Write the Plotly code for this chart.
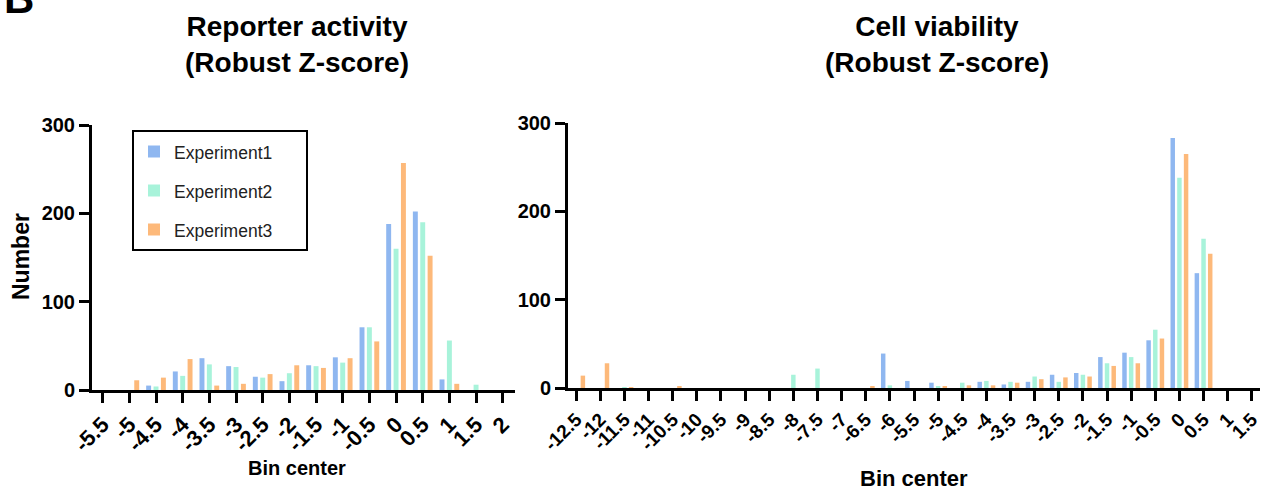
import plotly.graph_objects as go

# ---------------- data ----------------
left_bins = [-5.5, -5, -4.5, -4, -3.5, -3, -2.5, -2, -1.5, -1, -0.5, 0, 0.5, 1, 1.5, 2]
left_labels = ["-5.5", "-5", "-4.5", "-4", "-3.5", "-3", "-2.5", "-2", "-1.5", "-1",
               "-0.5", "0", "0.5", "1", "1.5", "2"]
left_exp1 = [0, 0, 5, 21, 36, 27, 15, 10, 28, 37, 71, 188, 202, 12, 0, 0]
left_exp2 = [0, 0, 4, 16, 29, 26, 14, 19, 27, 31, 71, 160, 190, 56, 6, 0]
left_exp3 = [0, 11, 14, 35, 5, 7, 18, 28, 25, 36, 55, 257, 152, 7, 0, 0]

right_bins = [-12.5, -12, -11.5, -11, -10.5, -10, -9.5, -9, -8.5, -8, -7.5, -7, -6.5, -6,
              -5.5, -5, -4.5, -4, -3.5, -3, -2.5, -2, -1.5, -1, -0.5, 0, 0.5, 1, 1.5]
right_labels = ["-12.5", "-12", "-11.5", "-11", "-10.5", "-10", "-9.5", "-9", "-8.5", "-8",
                "-7.5", "-7", "-6.5", "-6", "-5.5", "-5", "-4.5", "-4", "-3.5", "-3",
                "-2.5", "-2", "-1.5", "-1", "-0.5", "0", "0.5", "1", "1.5"]
right_exp1 = [0, 0, 0, 0, 0, 0, 0, 0, 0, 0, 0, 0, 0, 39, 8, 6, 0, 7, 4, 7, 15, 17, 35, 40, 54, 283, 130, 0, 0]
right_exp2 = [0, 0, 1, 0, 0, 0, 0, 0, 0, 15, 22, 0, 0, 3, 0, 2, 6, 8, 7, 13, 7, 15, 28, 35, 66, 238, 169, 0, 0]
right_exp3 = [14, 28, 1, 0, 2, 0, 0, 0, 0, 0, 0, 0, 2, 0, 0, 1.5, 3, 3, 6, 10, 12, 13, 25, 28, 56, 265, 152, 0, 0]

series_names = ["Experiment1", "Experiment2", "Experiment3"]
colors = ["#8FB7F0", "#A8F3DA", "#FDB97A"]
y_ticks = [0, 100, 200, 300]

W, H = 1272, 490
FONT = "Arial, 'Liberation Sans', sans-serif"

fig = go.Figure()
for name, col, lv, rv in zip(series_names, colors,
                             [left_exp1, left_exp2, left_exp3],
                             [right_exp1, right_exp2, right_exp3]):
    fig.add_trace(go.Bar(x=left_bins, y=lv,
                         name="<span style='font-size:17.5px'>%s</span>&nbsp;&nbsp;&nbsp;&nbsp;&nbsp;" % name,
                         marker=dict(color=col, line=dict(width=0)),
                         legendgroup=name, showlegend=True, xaxis="x", yaxis="y"))
    fig.add_trace(go.Bar(x=right_bins, y=rv, name=name,
                         marker=dict(color=col, line=dict(width=0)),
                         legendgroup=name, showlegend=False, xaxis="x2", yaxis="y2"))

axis_common = dict(showline=True, linecolor="black", linewidth=3, ticks="outside",
                   ticklen=10, tickwidth=3, tickcolor="black", showgrid=False,
                   zeroline=False, automargin=False)

fig.update_layout(
    width=W, height=H,
    margin=dict(l=0, r=0, t=0, b=0, autoexpand=False),
    paper_bgcolor="white", plot_bgcolor="white",
    barmode="group", bargap=0.17, bargroupgap=0.33,
    font=dict(family=FONT, color="black"),
    xaxis=dict(domain=[92 / W, 515 / W], range=[-5.7, 2.23], tickmode="array",
               tickvals=left_bins, ticktext=left_labels, tickangle=-45,
               tickfont=dict(size=22, weight="bold"), anchor="y", **axis_common),
    yaxis=dict(domain=[(H - 390) / H, (H - 125) / H], range=[0, 300], tickmode="array",
               tickvals=y_ticks, tickfont=dict(size=20, weight="bold"), anchor="x",
               **axis_common),
    xaxis2=dict(domain=[568 / W, 1260 / W], range=[-12.67, 1.67], tickmode="array",
                tickvals=right_bins, ticktext=right_labels, tickangle=-45,
                tickfont=dict(size=19, weight="bold"), anchor="y2", **axis_common),
    yaxis2=dict(domain=[(H - 388) / H, (H - 123) / H], range=[0, 300], tickmode="array",
                tickvals=y_ticks, tickfont=dict(size=20, weight="bold"), anchor="x2",
                **axis_common),
    legend=dict(x=132 / W, y=(H - 130) / H, xanchor="left", yanchor="top",
                bordercolor="black", borderwidth=2, bgcolor="white",
                font=dict(size=20, family=FONT, color="#222")),
)

ann = [
    dict(text="<b>Reporter activity<br>(Robust Z-score)</b>", x=297 / W, y=(H - 45) / H,
         font=dict(size=28)),
    dict(text="<b>Cell viability<br>(Robust Z-score)</b>", x=937 / W, y=(H - 45) / H,
         font=dict(size=28)),
    dict(text="<b>Bin center</b>", x=297 / W, y=(H - 468) / H, font=dict(size=20)),
    dict(text="<b>Bin center</b>", x=914 / W, y=(H - 478) / H, font=dict(size=22)),
    dict(text="<b>Number</b>", x=21 / W, y=(H - 257) / H, font=dict(size=23), textangle=-90),
    dict(text="<b>B</b>", x=19 / W, y=(H + 1) / H, font=dict(size=42)),
]
for a in ann:
    fig.add_annotation(xref="paper", yref="paper", showarrow=False,
                       xanchor="center", yanchor="middle",
                       font=dict(family=FONT, color="black", size=a["font"]["size"]),
                       text=a["text"], x=a["x"], y=a["y"], textangle=a.get("textangle", 0))

fig.write_html("out.html", config={"displayModeBar": False},
               post_script="document.body.style.margin='0px';")
